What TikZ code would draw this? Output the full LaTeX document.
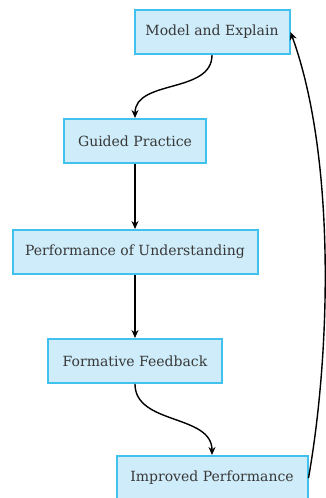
\documentclass[tikz,border=0pt]{standalone}
\usepackage{fontspec}
\setmainfont{DejaVu Serif}
\usetikzlibrary{arrows.meta,positioning}

\definecolor{stepfill}{RGB}{206,236,249}
\definecolor{stepline}{RGB}{64,193,238}

\begin{document}
\begin{tikzpicture}[
    x=1pt, y=-1pt,
    stage/.style={rectangle, draw=stepline, fill=stepfill, line width=2pt, minimum height=44pt, inner xsep=6pt, align=center, font=\fontsize{14}{16}\selectfont, text=black!78},
    arrow/.style={-{Stealth[length=8pt, width=7pt]}, line width=1.4pt, black}
    ]

    \useasboundingbox (0,0) rectangle (325,498);

    % Stages of the cycle
    \node[stage, minimum width=155pt] (model) at (212,32) {Model and Explain};
    \node[stage, minimum width=142pt] (guided) at (135,141) {Guided Practice};
    \node[stage, minimum width=245pt] (perf) at (135,252) {Performance of Understanding};
    \node[stage, minimum width=174pt] (form) at (135,361) {Formative Feedback};
    \node[stage, minimum width=191pt] (improved) at (212,478) {Improved Performance};

    % Forward arrows
    \draw[arrow] (model.south) to[out=-90, in=90] (guided.north);
    \draw[arrow] (guided) -- (perf);
    \draw[arrow] (perf) -- (form);
    \draw[arrow] (form.south) to[out=-90, in=90] (improved.north);

    % Loop back to the start
    \draw[arrow] (improved.east) to[out=80, in=-70, looseness=0.75] (model.east);

\end{tikzpicture}
\end{document}
